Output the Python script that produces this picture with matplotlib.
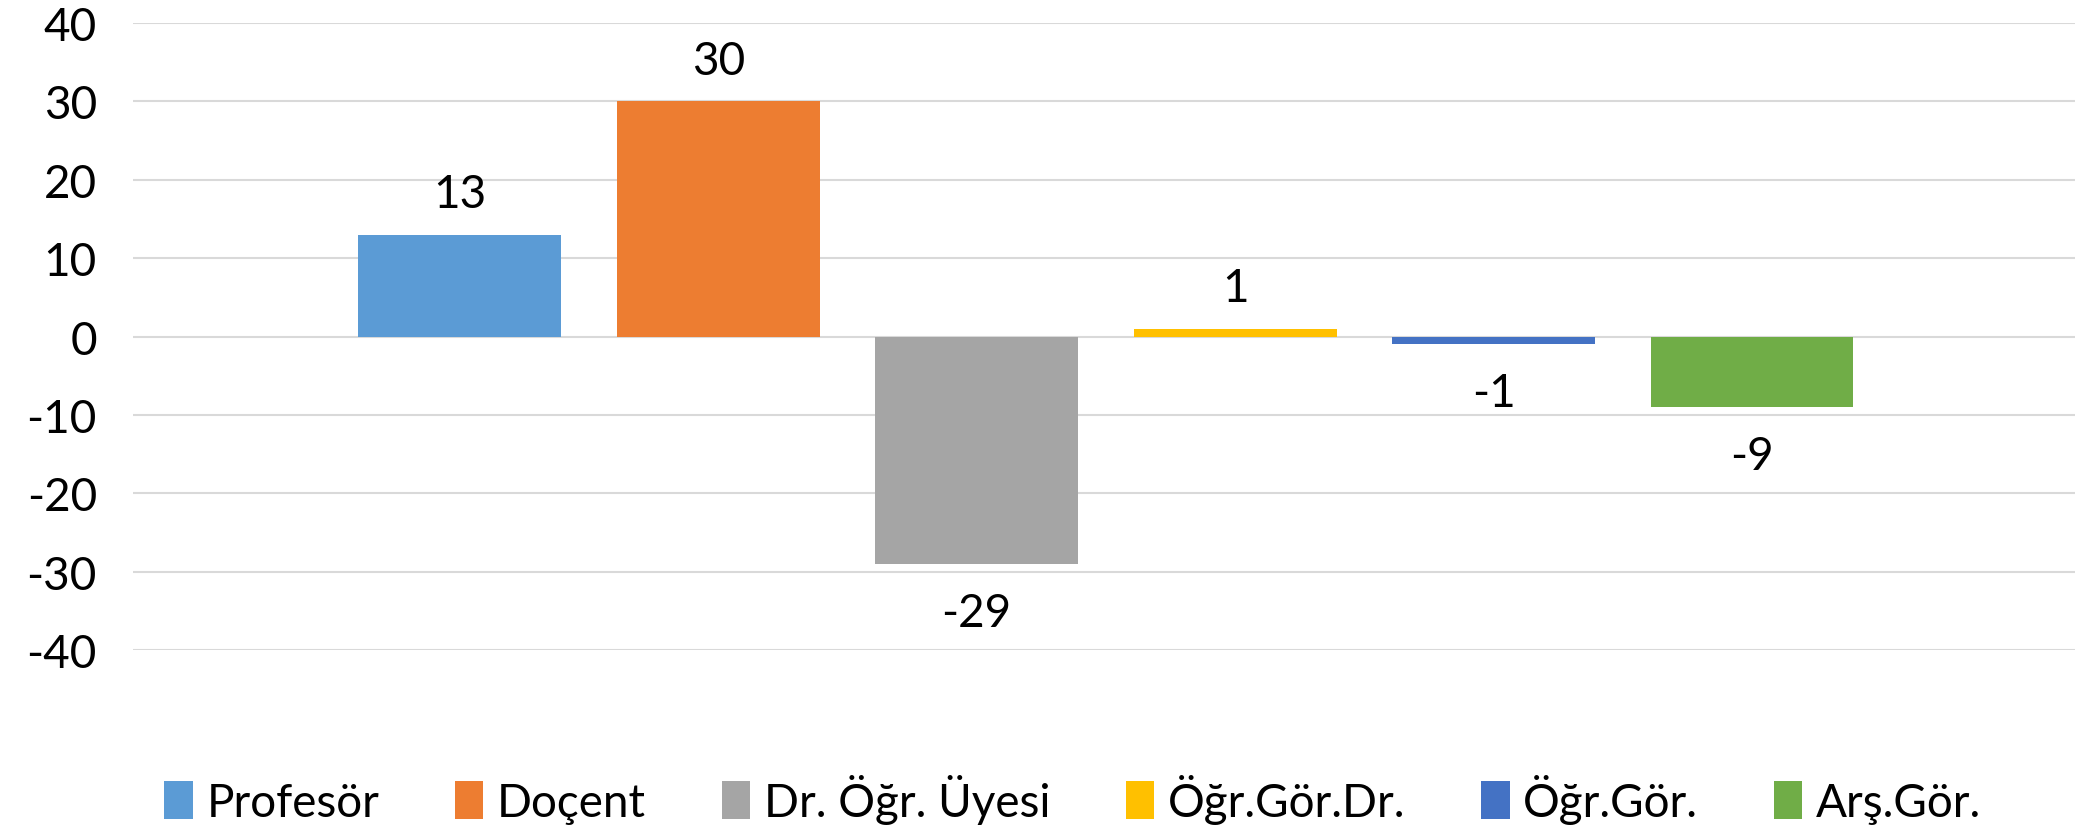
import matplotlib.pyplot as plt

categories = ['Profesör', 'Doçent', 'Dr. Öğr. Üyesi', 'Öğr.Gör.Dr.', 'Öğr.Gör.', 'Arş.Gör.']
values = [13, 30, -29, 1, -1, -9]
colors = ['#5B9BD5', '#ED7D31', '#A5A5A5', '#FFC000', '#4472C4', '#70AD47']
yticks = [-40, -30, -20, -10, 0, 10, 20, 30, 40]

plt.rcParams['font.family'] = ['Lato', 'DejaVu Sans']

fig = plt.figure(figsize=(20.79, 8.29), dpi=100)
ax = fig.add_axes([0.064, 0.2147, 0.934, 0.7563])

for i, (cat, val, col) in enumerate(zip(categories, values, colors)):
    ax.bar(i, val, width=0.785, color=col, label=cat, zorder=3)
    off = 14 if val >= 0 else -20
    ax.annotate(str(val), (i, val), xytext=(0, off), textcoords='offset points',
                ha='center', va='bottom' if val >= 0 else 'top', fontsize=33)

ax.set_xlim(-1.264, 6.249)
ax.set_ylim(-40, 40)
ax.set_yticks(yticks)
ax.set_yticklabels([str(t) for t in yticks], fontsize=33)
ax.set_xticks([])
ax.tick_params(axis='y', length=0, pad=26)
ax.grid(axis='y', color='#D9D9D9', linewidth=1.5, zorder=0)
for s in ax.spines.values():
    s.set_visible(False)

fig.legend(loc='center', bbox_to_anchor=(0.516, 0.035), ncol=6, frameon=False,
           fontsize=33, handlelength=0.62, handleheight=0.9, handletextpad=0.3,
           columnspacing=1.65)

plt.savefig('out.png', dpi=100)
